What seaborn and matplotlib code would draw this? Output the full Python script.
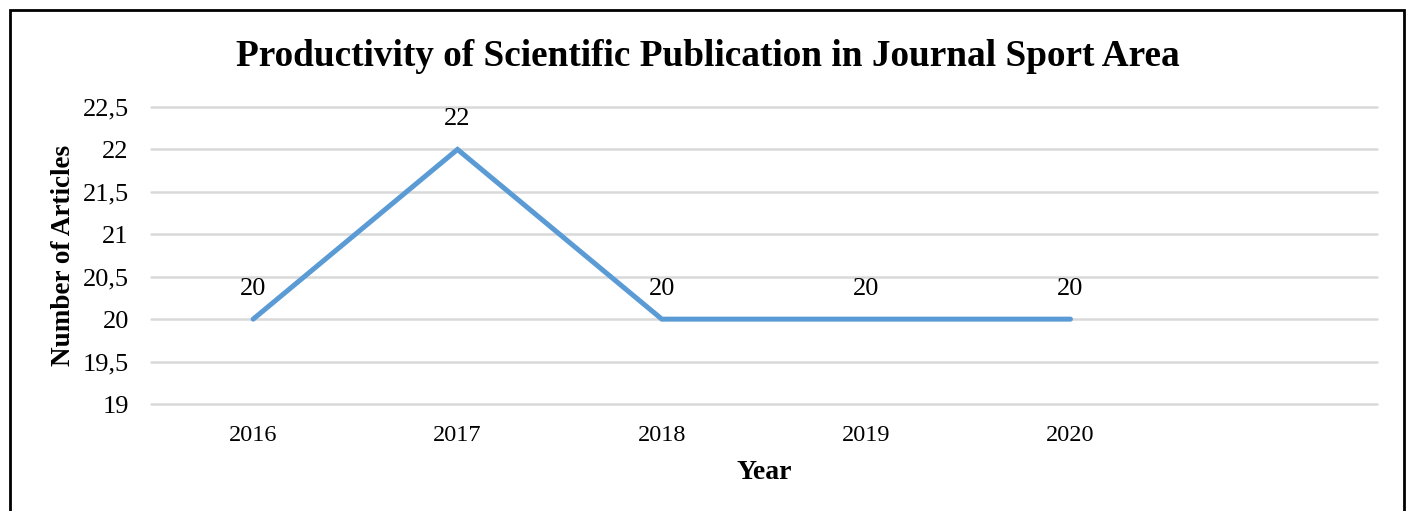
import matplotlib
matplotlib.use("Agg")
import matplotlib.pyplot as plt
import seaborn as sns
import pandas as pd
from matplotlib.patches import Rectangle

years = ["2016", "2017", "2018", "2019", "2020"]
articles = [20, 22, 20, 20, 20]
y_ticks = [19, 19.5, 20, 20.5, 21, 21.5, 22, 22.5]
y_tick_labels = ["19", "19,5", "20", "20,5", "21", "21,5", "22", "22,5"]

sns.set_style("white")
plt.rcParams["font.family"] = ["Liberation Serif", "DejaVu Serif"]
plt.rcParams["text.color"] = "black"
plt.rcParams["axes.labelcolor"] = "black"
plt.rcParams["xtick.color"] = "black"
plt.rcParams["ytick.color"] = "black"

df = pd.DataFrame({"Year": years, "Articles": articles})

fig = plt.figure(figsize=(14.1, 5.11), dpi=100)
ax = fig.add_axes([151 / 1410, 1 - 404 / 511, (1377 - 151) / 1410, (404 - 107) / 511])

sns.lineplot(data=df, x="Year", y="Articles", ax=ax, color="#5B9BD5",
             linewidth=3.6, solid_capstyle="round", solid_joinstyle="miter")

ax.set_xlim(-0.5, 5.5)
ax.set_ylim(19, 22.5)
ax.set_yticks(y_ticks)
ax.set_yticklabels(y_tick_labels)
ax.set_xticks(range(len(years)))
ax.set_xticklabels(years)
ax.yaxis.grid(True, color="#d9d9d9", linewidth=1.8)
for gl in ax.get_ygridlines():
    gl.set_clip_on(False)
ax.set_axisbelow(True)
for s in ax.spines.values():
    s.set_visible(False)
ax.tick_params(axis="y", labelsize=19, length=0, pad=16)
ax.tick_params(axis="x", labelsize=17.5, length=0, pad=15)

for i, v in enumerate(articles):
    ax.annotate(str(v), (i, v), xytext=(0, 22), textcoords="offset points",
                ha="center", va="center", fontsize=19)

ax.set_xlabel("Year", fontsize=20, fontweight="bold", labelpad=10)
ax.set_ylabel("Number of Articles", fontsize=19.5, fontweight="bold", labelpad=5)

fig.text(708 / 1410, 1 - 57 / 511, "Productivity of Scientific Publication in Journal Sport Area",
         ha="center", va="center", fontsize=26.8, fontweight="bold")

fig.patches.append(Rectangle((9.5 / 1410, -0.05), (1404 - 9.5) / 1410, 1.05 - 10.5 / 511,
                             transform=fig.transFigure, fill=False,
                             edgecolor="black", linewidth=2))

fig.savefig("out.png", dpi=100)
